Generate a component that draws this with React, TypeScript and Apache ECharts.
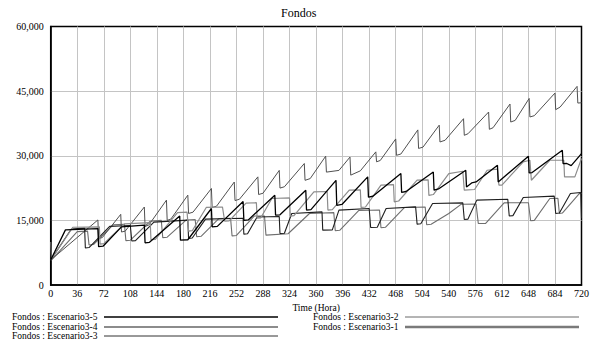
import React, { useEffect, useRef } from "react";
import * as echarts from "echarts";

// ---------- data ----------
const chartTitle = "Fondos";
const xAxisName = "Time (Hora)";
const xMin = 0;
const xMax = 720;
const xStep = 36;
const yMin = 0;
const yMax = 60000;
const yStep = 15000;

const seriesNames = [
  "Fondos : Escenario3-5",
  "Fondos : Escenario3-4",
  "Fondos : Escenario3-3",
  "Fondos : Escenario3-2",
  "Fondos : Escenario3-1",
];

// [time (hora), fondos]
const escenario3_5: [number, number][] = [
  [0, 5800], [20, 12800], [64, 13100], [65, 8900], [71, 9000], [96, 13500], [127, 13900],
  [128, 9800], [134, 9900], [175, 16000], [176, 10400], [186, 10500], [218, 17760],
  [219, 13500], [226, 13600], [261, 19400], [262, 15000], [268, 15100], [304, 20850],
  [305, 16200], [311, 16300], [346, 22000], [347, 17400], [353, 17500], [387, 24300],
  [388, 18500], [395, 18700], [430, 25100], [431, 20400], [437, 20600], [475, 25900],
  [476, 21500], [482, 21700], [519, 26250], [520, 22000], [526, 22300], [563, 26640],
  [564, 22770], [571, 23700], [577, 23930], [606, 27800], [607, 23930], [648, 29880],
  [649, 26020], [653, 26100], [694, 31270], [695, 28190], [700, 28200], [706, 27700],
  [720, 30500],
];

const escenario3_4: [number, number][] = [
  [0, 5800], [30, 13400], [66, 13500], [67, 9500], [72, 9600], [100, 14200], [135, 14500],
  [136, 10500], [142, 10600], [172, 16800], [185, 16900], [187, 12500], [192, 12600],
  [211, 18000], [233, 18100], [236, 14800], [242, 14900], [265, 19000], [279, 19100],
  [280, 15500], [285, 15600], [300, 20080], [324, 20200], [325, 16000], [330, 16100],
  [357, 21600], [375, 21700], [376, 17400], [382, 17500], [405, 22000], [420, 22100],
  [421, 18000], [427, 18100], [448, 23170], [465, 23300], [466, 19300], [472, 19500],
  [497, 24320], [512, 24400], [513, 20800], [519, 21000], [540, 25870], [559, 26400],
  [561, 22000], [575, 22170], [592, 26640], [606, 26900], [608, 23170], [612, 23200],
  [641, 28570], [650, 28960], [652, 24320], [677, 28960], [696, 28960], [697, 25090],
  [711, 25100], [720, 29350],
];

const escenario3_3: [number, number][] = [
  [0, 5800], [28, 13000], [46, 13200], [47, 8600], [52, 8700], [80, 13600], [108, 13800],
  [110, 10200], [115, 10300], [140, 14600], [186, 15060], [187, 10800], [192, 10900],
  [210, 15300], [261, 15500], [262, 11800], [267, 11900], [280, 15800], [310, 15900],
  [311, 11970], [317, 12000], [327, 16600], [368, 16980], [369, 12740], [382, 12800],
  [391, 17370], [432, 17760], [434, 13360], [443, 13400], [455, 17760], [495, 18140],
  [497, 14130], [502, 14200], [518, 18930], [559, 19070], [561, 15220], [566, 15300],
  [578, 19700], [620, 19900], [622, 16000], [627, 16100], [641, 20310], [683, 20620],
  [685, 16600], [690, 16700], [705, 21240], [719, 21470], [720, 15500],
];

const escenario3_2: [number, number][] = [
  [0, 5800], [64, 15100], [65, 10800], [70, 11000], [95, 16400], [96, 12300], [101, 12500],
  [127, 18100], [128, 13600], [133, 13900], [157, 19700], [158, 15000], [163, 15300],
  [186, 20850], [187, 16600], [193, 16900], [218, 22400], [219, 18000], [225, 18300],
  [249, 23900], [250, 19600], [256, 19900], [281, 25100], [282, 21000], [288, 21300],
  [310, 26600], [311, 22500], [317, 22800], [344, 28200], [345, 24300], [352, 24700],
  [373, 29900], [374, 26200], [391, 26600], [406, 29700], [407, 25500], [420, 26500],
  [441, 30900], [442, 28600], [447, 28900], [468, 33900], [469, 30100], [475, 30400],
  [498, 36000], [499, 31700], [505, 32000], [527, 37100], [528, 33200], [535, 33600],
  [560, 38600], [561, 34750], [566, 35100], [594, 40150], [595, 36140], [600, 36500],
  [623, 42000], [624, 37830], [630, 38200], [649, 43300], [650, 39000], [656, 39300],
  [684, 44550], [685, 40700], [691, 41300], [714, 46100], [715, 42230], [720, 42300],
];

const escenario3_1: [number, number][] = [
  [0, 10000], [1, 5800], [36, 12400], [50, 12500], [52, 9300], [58, 9400], [85, 14000],
  [100, 14100], [102, 10300], [108, 10400], [135, 14800], [150, 15000], [152, 11000],
  [158, 11100], [184, 15100], [196, 15200], [198, 11200], [204, 11300], [228, 15400],
  [244, 15500], [246, 11400], [252, 11500], [276, 16000], [290, 16000], [292, 11580],
  [322, 11900], [351, 16600], [384, 16800], [386, 12600], [392, 12700], [418, 17300],
  [446, 17400], [448, 13300], [454, 13400], [480, 18000], [508, 18100], [510, 14000],
  [516, 14100], [540, 16600], [557, 18760], [577, 18800], [580, 14290], [590, 14300],
  [615, 19070], [648, 19100], [651, 14900], [656, 15000], [677, 20080], [688, 20100],
  [690, 16600], [694, 16700], [717, 21200], [720, 21300],
];

const seriesData = [escenario3_5, escenario3_4, escenario3_3, escenario3_2, escenario3_1];

// ---------- styles ----------
const lineColors = ["#000000", "#8c8c8c", "#1e1e1e", "#505050", "#6e6e6e"];
const lineWidths = [1.3, 1.2, 1.1, 1, 1.1];
const legendWidths = [1.5, 2, 1, 1, 2.5];
const legendColors = ["#000000", "#8c8c8c", "#333333", "#6a6a6a", "#7a7a7a"];
const FONT = "Liberation Serif";

export default function App() {
  const ref = useRef<HTMLDivElement>(null);

  useEffect(() => {
    if (!ref.current) return;
    const chart = echarts.init(ref.current, undefined, { renderer: "svg" });

    const legendSlots = [
      { tx: 12, lx1: 104, lx2: 278, y: 317 },
      { tx: 12, lx1: 104, lx2: 278, y: 327 },
      { tx: 12, lx1: 104, lx2: 278, y: 336 },
      { tx: 313, lx1: 405, lx2: 579, y: 317 },
      { tx: 313, lx1: 405, lx2: 579, y: 327 },
    ];
    const legendGraphics: any[] = [];
    seriesNames.forEach((name, i) => {
      const s = legendSlots[i];
      legendGraphics.push({
        type: "text",
        x: s.tx,
        y: s.y,
        style: {
          text: name,
          fontFamily: FONT,
          fontSize: 9.5,
          fill: "#000",
          verticalAlign: "middle",
          align: "left",
        },
      });
      legendGraphics.push({
        type: "line",
        shape: { x1: s.lx1, y1: s.y, x2: s.lx2, y2: s.y },
        style: { stroke: legendColors[i], lineWidth: legendWidths[i] },
      });
    });

    chart.setOption({
      animation: false,
      backgroundColor: "#ffffff",
      title: {
        text: chartTitle,
        left: 276,
        top: 2,
        textStyle: { fontFamily: FONT, fontSize: 12, fontWeight: "normal", color: "#000" },
      },
      grid: {
        left: 50.7,
        right: 9.3,
        top: 26.5,
        bottom: 56,
        show: true,
        borderColor: "#000",
        borderWidth: 1.5,
        backgroundColor: "transparent",
        containLabel: false,
      },
      xAxis: {
        type: "value",
        min: xMin,
        max: xMax,
        interval: xStep,
        name: xAxisName,
        nameLocation: "middle",
        nameGap: 12.5,
        nameTextStyle: { fontFamily: FONT, fontSize: 9.5, color: "#000", lineHeight: 10 },
        axisLine: { show: true, lineStyle: { color: "#000", width: 1.5 } },
        axisTick: { show: false },
        axisLabel: { fontFamily: FONT, fontSize: 10, color: "#000", margin: 3 },
        splitLine: {
          show: true,
          showMinLine: false,
          showMaxLine: false,
          lineStyle: { color: "#c4c4c4", width: 1 },
        },
      },
      yAxis: {
        type: "value",
        min: yMin,
        max: yMax,
        interval: yStep,
        axisLine: { show: true, lineStyle: { color: "#000", width: 1.5 } },
        axisTick: { show: false },
        axisLabel: {
          fontFamily: FONT,
          fontSize: 10,
          color: "#000",
          margin: 7,
          formatter: (v: number) => v.toLocaleString("en-US"),
        },
        splitLine: {
          show: true,
          showMinLine: false,
          showMaxLine: false,
          lineStyle: { color: "#c4c4c4", width: 1 },
        },
      },
      series: seriesNames.map((name, i) => ({
        name,
        type: "line",
        data: seriesData[i],
        showSymbol: false,
        symbol: "none",
        smooth: false,
        lineStyle: { color: lineColors[i], width: lineWidths[i] },
        itemStyle: { color: lineColors[i] },
        z: 10 - i,
      })),
      graphic: legendGraphics,
    });

    return () => {
      chart.dispose();
    };
  }, []);

  return (
    <div
      ref={ref}
      style={{ position: "absolute", left: 0, top: 0, width: 592, height: 341, background: "#fff" }}
    />
  );
}
